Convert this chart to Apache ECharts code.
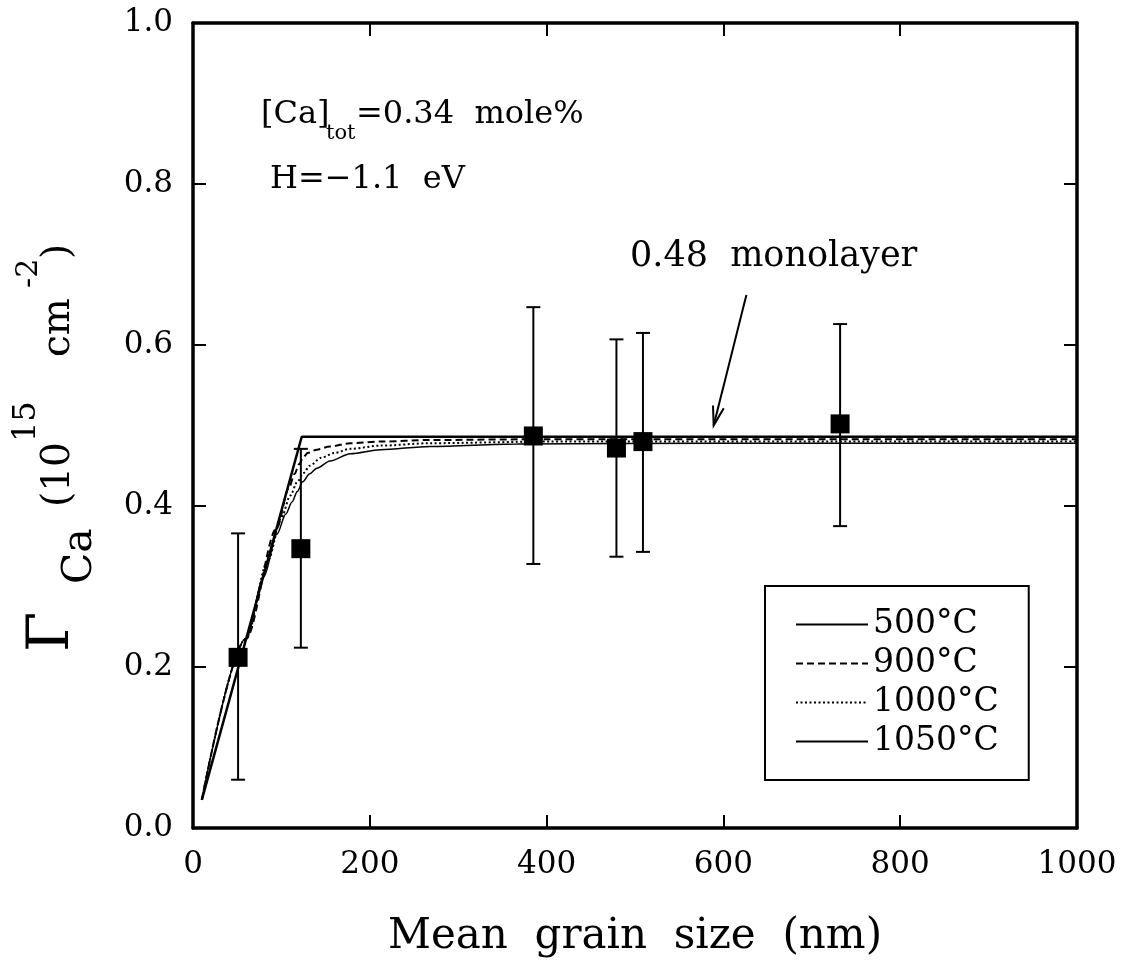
<!DOCTYPE html>
<html><head><meta charset="utf-8">
<script src="https://cdn.jsdelivr.net/npm/echarts@6/dist/echarts.min.js"></script>
<style>html,body{margin:0;padding:0;background:#fff}#c{width:1127px;height:973px}</style>
</head><body><div id="c"></div>
<script>
// ---------- data ----------
const seriesNames = ['500°C', '900°C', '1000°C', '1050°C'];
const curve500  = [[10,0.035],[123,0.486],[1000,0.486]];
const curve900  = [[10,0.035],[60,0.235],[95,0.373],[108,0.421],[115,0.440],[120,0.452],[125,0.461],[130,0.466],[140,0.470],[155,0.474],[178,0.478],[212,0.480],[268,0.482],[400,0.483],[1000,0.483]];
const curve1000 = [[10,0.035],[60,0.235],[85,0.333],[100,0.385],[110,0.413],[118,0.430],[125,0.441],[132,0.450],[145,0.460],[160,0.466],[178,0.471],[212,0.475],[268,0.478],[400,0.480],[1000,0.480]];
const curve1050 = [[10,0.035],[60,0.235],[80,0.312],[95,0.365],[105,0.390],[112,0.405],[118,0.418],[124,0.430],[132,0.440],[140,0.447],[155,0.456],[178,0.465],[212,0.470],[268,0.474],[367,0.477],[600,0.478],[1000,0.478]];

const grainSize = [51, 122, 385, 479, 509, 732];
const gammaCa   = [0.212, 0.347, 0.487, 0.472, 0.480, 0.502];
const errLow    = [0.060, 0.224, 0.328, 0.337, 0.343, 0.375];
const errHigh   = [0.366, 0.471, 0.647, 0.607, 0.615, 0.626];

const arrowFrom = [626, 0.662];
const arrowTo   = [589, 0.500];

const xTickLabels = ['0', '200', '400', '600', '800', '1000'];
const yTickLabels = ['0.0', '0.2', '0.4', '0.6', '0.8', '1.0'];

// ---------- chart ----------
const FONT = 'DejaVu Serif';
const chart = echarts.init(document.getElementById('c'), null, {renderer: 'canvas'});

const axisLineStyle = {color: '#000', width: 3.5};
const tickStyle = {show: true, inside: true, length: 13, lineStyle: {color: '#000', width: 2}};

const points = grainSize.map((x, i) => [x, gammaCa[i]]);
const bars = grainSize.map((x, i) => [x, errLow[i], errHigh[i]]);

function txt(str, x, y, size, extra) {
  return Object.assign({type: 'text', x: x, y: y, z: 100, style: {
    text: str, fontFamily: FONT, fontSize: size, fill: '#000', align: 'left', verticalAlign: 'middle'
  }}, extra || {});
}
const R = Math.PI / 2;

const option = {
  animation: false,
  backgroundColor: '#fff',
  grid: {left: 193, right: 50, top: 23, bottom: 145, containLabel: false, outerBoundsMode: 'none'},
  xAxis: [{
    type: 'value', min: 0, max: 1000, interval: 200, position: 'bottom',
    axisLine: {show: true, onZero: false, lineStyle: axisLineStyle},
    axisTick: tickStyle,
    splitLine: {show: false},
    axisLabel: {fontFamily: FONT, fontSize: 31, color: '#000', margin: 21,
      formatter: v => xTickLabels[Math.round(v / 200)]},
    name: 'Mean  grain  size  (nm)', nameLocation: 'middle', nameGap: 88,
    nameTextStyle: {fontFamily: FONT, fontSize: 42, color: '#000'}
  }, {
    type: 'value', min: 0, max: 1000, interval: 200, position: 'top',
    axisLine: {show: true, onZero: false, lineStyle: axisLineStyle},
    axisTick: tickStyle, axisLabel: {show: false}, splitLine: {show: false}
  }],
  yAxis: [{
    type: 'value', min: 0, max: 1, interval: 0.2, position: 'left',
    axisLine: {show: true, onZero: false, lineStyle: axisLineStyle},
    axisTick: tickStyle,
    splitLine: {show: false},
    axisLabel: {fontFamily: FONT, fontSize: 31, color: '#000', margin: 20,
      formatter: v => yTickLabels[Math.round(v / 0.2)]}
  }, {
    type: 'value', min: 0, max: 1, interval: 0.2, position: 'right',
    axisLine: {show: true, onZero: false, lineStyle: axisLineStyle},
    axisTick: tickStyle, axisLabel: {show: false}, splitLine: {show: false}
  }],
  legend: {
    data: seriesNames, orient: 'vertical', left: 765, top: 586,
    padding: [19, 30, 19, 30], itemGap: 0, itemWidth: 72, itemHeight: 14,
    borderColor: '#000', borderWidth: 2, backgroundColor: '#fff',
    selectedMode: false,
    itemStyle: {opacity: 0},
    textStyle: {fontFamily: FONT, fontSize: 33, color: '#000', lineHeight: 39}
  },
  graphic: [
    // [Ca]tot=0.34 mole%
    txt('[Ca]', 261, 115, 32),
    txt('tot', 326, 134, 21),
    txt('=0.34  mole%', 356, 115, 32),
    // H = -1.1 eV
    txt('H=−1.1  eV', 270, 180, 32),
    // annotation
    txt('0.48  monolayer', 630, 257, 35),
    // rotated y-axis title: Γ_Ca (10^15 cm^-2)
    txt('Γ', 53, 652, 58, {rotation: R}),
    txt('Ca', 80, 584, 41, {rotation: R}),
    txt('(10', 59, 507, 39, {rotation: R}),
    txt('15', 27, 442, 32, {rotation: R}),
    txt('cm', 59, 357, 39, {rotation: R}),
    txt('-2', 29, 288, 30, {rotation: R}),
    txt(')', 59, 259, 39, {rotation: R})
  ],
  series: [
    {name: seriesNames[0], type: 'line', data: curve500, symbol: 'none', smooth: false,
     lineStyle: {color: '#000', width: 2.5, type: 'solid'}, itemStyle: {color: '#000'}, z: 3},
    {name: seriesNames[1], type: 'line', data: curve900, symbol: 'none', smooth: 0.3, smoothMonotone: 'x',
     lineStyle: {color: '#000', width: 2, type: [7, 4]}, itemStyle: {color: '#000'}, z: 3},
    {name: seriesNames[2], type: 'line', data: curve1000, symbol: 'none', smooth: 0.3, smoothMonotone: 'x',
     lineStyle: {color: '#000', width: 2, type: [2, 2.5]}, itemStyle: {color: '#000'}, z: 3},
    {name: seriesNames[3], type: 'line', data: curve1050, symbol: 'none', smooth: 0.3, smoothMonotone: 'x',
     lineStyle: {color: '#000', width: 1.5, type: 'solid'}, itemStyle: {color: '#000'}, z: 3},
    {name: 'errorbars', type: 'custom', data: bars, encode: {x: 0, y: [1, 2]}, z: 4,
     renderItem: (params, api) => {
       const x = api.value(0);
       const pLo = api.coord([x, api.value(1)]);
       const pHi = api.coord([x, api.value(2)]);
       const hw = 7;
       const style = {stroke: '#000', lineWidth: 2};
       return {type: 'group', children: [
         {type: 'line', shape: {x1: pLo[0], y1: pLo[1], x2: pHi[0], y2: pHi[1]}, style},
         {type: 'line', shape: {x1: pLo[0] - hw, y1: pLo[1], x2: pLo[0] + hw, y2: pLo[1]}, style},
         {type: 'line', shape: {x1: pHi[0] - hw, y1: pHi[1], x2: pHi[0] + hw, y2: pHi[1]}, style}
       ]};
     }},
    {name: 'data', type: 'scatter', data: points, symbol: 'rect', symbolSize: 19,
     itemStyle: {color: '#000', opacity: 1}, z: 5},
    {name: 'arrow', type: 'custom', data: [[arrowFrom[0], arrowFrom[1], arrowTo[0], arrowTo[1]]],
     encode: {x: [0, 2], y: [1, 3]}, z: 6,
     renderItem: (params, api) => {
       const p1 = api.coord([api.value(0), api.value(1)]);
       const p2 = api.coord([api.value(2), api.value(3)]);
       const ang = Math.atan2(p1[1] - p2[1], p1[0] - p2[0]);
       const L = 20, a = 0.28;
       const h1 = [p2[0] + L * Math.cos(ang + a), p2[1] + L * Math.sin(ang + a)];
       const h2 = [p2[0] + L * Math.cos(ang - a), p2[1] + L * Math.sin(ang - a)];
       const style = {stroke: '#000', lineWidth: 2, fill: null};
       return {type: 'group', children: [
         {type: 'line', shape: {x1: p1[0], y1: p1[1], x2: p2[0], y2: p2[1]}, style},
         {type: 'polyline', shape: {points: [h1, p2, h2]}, style}
       ]};
     }}
  ]
};
chart.setOption(option);
</script>
</body></html>
